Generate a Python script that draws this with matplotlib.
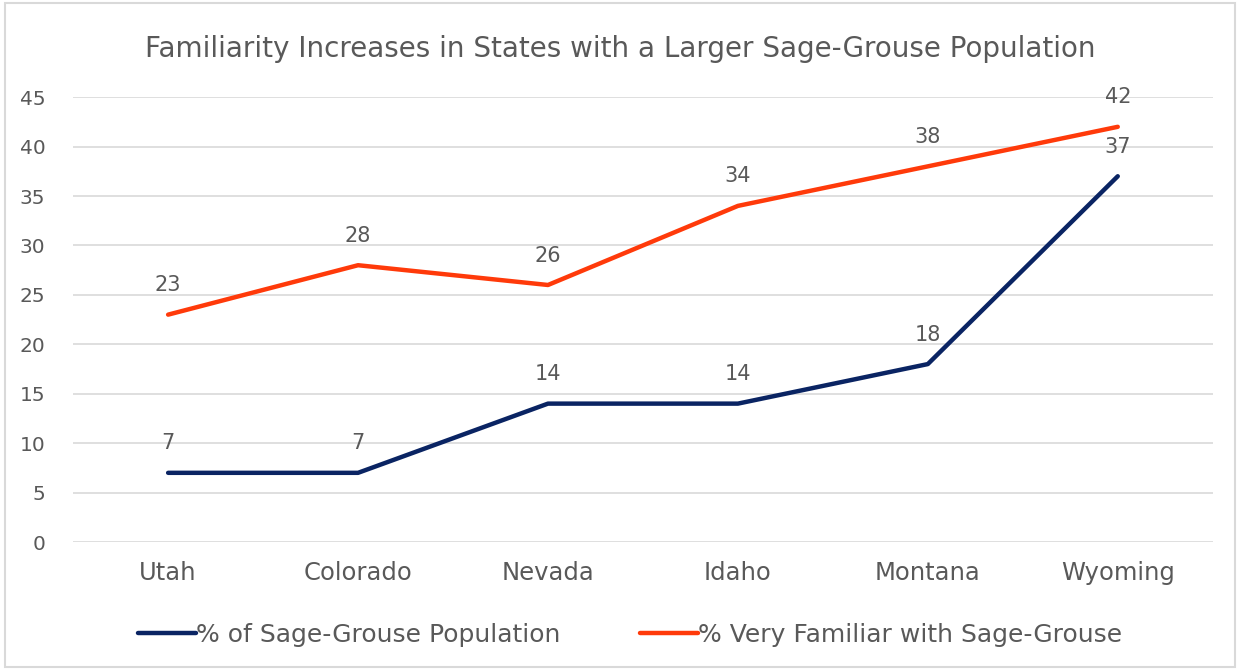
import matplotlib.pyplot as plt
from matplotlib.patches import Rectangle

states = ['Utah', 'Colorado', 'Nevada', 'Idaho', 'Montana', 'Wyoming']
pop_share = [7, 7, 14, 14, 18, 37]
very_familiar = [23, 28, 26, 34, 38, 42]
yticks = [0, 5, 10, 15, 20, 25, 30, 35, 40, 45]

gray = '#595959'
navy = '#0a2463'
orange = '#ff3a0a'

plt.rcParams['font.family'] = ['DejaVu Sans']

fig = plt.figure(figsize=(12.4, 6.7), dpi=100)
ax = fig.add_axes([0.059, 0.191, 0.919, 0.664])

x = list(range(len(states)))
ax.plot(x, pop_share, color=navy, lw=3.2, solid_capstyle='round', label='% of Sage-Grouse Population')
ax.plot(x, very_familiar, color=orange, lw=3.2, solid_capstyle='round', label='% Very Familiar with Sage-Grouse')

for xi, v in zip(x, pop_share):
    ax.annotate(str(v), (xi, v), xytext=(0, 14), textcoords='offset points',
                ha='center', va='bottom', fontsize=15, color=gray)
for xi, v in zip(x, very_familiar):
    ax.annotate(str(v), (xi, v), xytext=(0, 14), textcoords='offset points',
                ha='center', va='bottom', fontsize=15, color=gray)

ax.set_xlim(-0.5, len(states) - 0.5)
ax.set_ylim(0, 45)
ax.set_yticks(yticks)
ax.set_xticks(x)
ax.set_xticklabels(states)
ax.grid(axis='y', color='#d9d9d9', lw=1.2)
ax.set_axisbelow(True)
for s in ax.spines.values():
    s.set_visible(False)
ax.tick_params(axis='both', length=0, colors=gray, labelsize=14.5)
ax.tick_params(axis='y', pad=20)
ax.tick_params(axis='x', pad=14)
for lbl in ax.get_xticklabels():
    lbl.set_fontsize(17.5)

fig.text(0.5, 0.927, 'Familiarity Increases in States with a Larger Sage-Grouse Population',
         ha='center', va='center', fontsize=20, color=gray)

leg = fig.legend(loc='center', bbox_to_anchor=(0.508, 0.052), ncol=2, frameon=False,
                 fontsize=18, handlelength=2.3, handletextpad=0.0, columnspacing=3.2)
for t in leg.get_texts():
    t.set_color(gray)

fig.patches.append(Rectangle((0.004, 0.004), 0.992, 0.992, transform=fig.transFigure,
                             fill=False, edgecolor='#d9d9d9', lw=1.5))

fig.savefig('out.png', dpi=100)
